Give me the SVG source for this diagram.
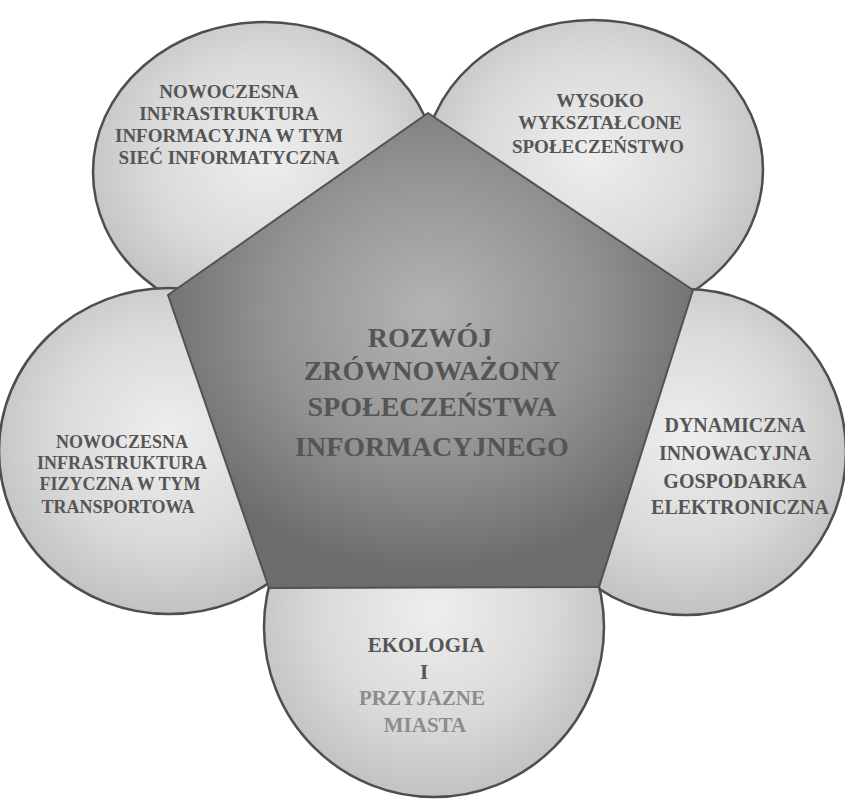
<svg xmlns="http://www.w3.org/2000/svg" width="845" height="804" viewBox="0 0 845 804">
  <defs>
    <radialGradient id="circ" cx="50%" cy="45%" r="55%">
      <stop offset="0" stop-color="#eeeeee"/>
      <stop offset="0.6" stop-color="#dadada"/>
      <stop offset="1" stop-color="#c2c2c2"/>
    </radialGradient>
    <radialGradient id="pent" cx="50%" cy="42%" r="55%">
      <stop offset="0" stop-color="#b4b4b4"/>
      <stop offset="0.55" stop-color="#939393"/>
      <stop offset="1" stop-color="#6c6c6c"/>
    </radialGradient>
    <style>
      .c { fill: url(#circ); stroke: #4e4e4e; stroke-width: 2.5; }
      .p { fill: url(#pent); stroke: #525252; stroke-width: 2; stroke-linejoin: round; }
      text { font-family: "Liberation Serif", "Times New Roman", serif; font-weight: bold; text-anchor: middle; fill: #555555; }
      .s18 { font-size: 18px; }
      .s19 { font-size: 19px; }
      .s20 { font-size: 20px; }
      .s21 { font-size: 21px; }
      .big { font-size: 28px; fill: #4a4a4a; }
      .fade { fill: #8c8c8c; }
    </style>
  </defs>
  <rect width="845" height="804" fill="#ffffff"/>

  <g id="node-infra-informacyjna">
    <ellipse class="c" cx="265" cy="172" rx="172" ry="150"/>
  </g>
  <g id="node-spoleczenstwo">
    <ellipse class="c" cx="593" cy="170" rx="170" ry="150"/>
  </g>
  <g id="node-infra-fizyczna">
    <ellipse class="c" cx="169" cy="451" rx="170" ry="163"/>
  </g>
  <g id="node-gospodarka">
    <ellipse class="c" cx="686" cy="452" rx="160" ry="163"/>
  </g>
  <g id="node-ekologia">
    <ellipse class="c" cx="434" cy="627" rx="170" ry="170"/>
  </g>
  <g id="node-center">
    <polygon class="p" points="428,113 693,290 599,587 269,588 168,295"/>
  </g>

  <g id="labels">
    <g class="s19">
      <text x="229" y="98">NOWOCZESNA</text>
      <text x="229" y="120">INFRASTRUKTURA</text>
      <text x="229" y="142">INFORMACYJNA W TYM</text>
      <text x="229" y="164">SIEĆ INFORMATYCZNA</text>
    </g>
    <g class="s19">
      <text x="600" y="107">WYSOKO</text>
      <text x="600" y="129">WYKSZTAŁCONE</text>
      <text x="598" y="153">SPOŁECZEŃSTWO</text>
    </g>
    <g class="s18">
      <text x="122" y="448">NOWOCZESNA</text>
      <text x="122" y="469">INFRASTRUKTURA</text>
      <text x="120" y="490">FIZYCZNA W TYM</text>
      <text x="118" y="513">TRANSPORTOWA</text>
    </g>
    <g class="s20">
      <text x="735" y="432">DYNAMICZNA</text>
      <text x="735" y="460">INNOWACYJNA</text>
      <text x="735" y="488">GOSPODARKA</text>
      <text x="740" y="514">ELEKTRONICZNA</text>
    </g>
    <g class="s21">
      <text x="426" y="652">EKOLOGIA</text>
      <text x="424" y="679">I</text>
      <text class="fade" x="422" y="705">PRZYJAZNE</text>
      <text class="fade" x="425" y="732">MIASTA</text>
    </g>
    <g class="big">
      <text x="430" y="347">ROZWÓJ</text>
      <text x="432" y="380">ZRÓWNOWAŻONY</text>
      <text x="432" y="416">SPOŁECZEŃSTWA</text>
      <text x="432" y="456">INFORMACYJNEGO</text>
    </g>
  </g>
</svg>
